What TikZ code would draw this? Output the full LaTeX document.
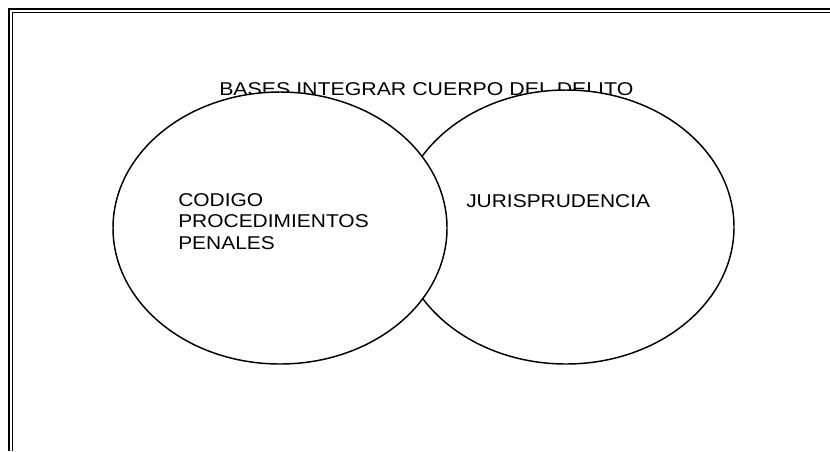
\documentclass[tikz,border=0pt]{standalone}
\usepackage{fontspec}
\setmainfont[FakeStretch=1.13]{Liberation Sans}
\newfontfamily\titlefont[FakeStretch=1.15]{Liberation Sans}
\usetikzlibrary{shapes.geometric}
\tikzset{
  blob/.style={ellipse, draw=black, fill=white, line width=1.1pt, inner sep=0pt},
  label/.style={inner sep=0pt, font=\fontsize{13.9pt}{16.1pt}\selectfont, align=left},
  frameouter/.style={line width=2pt},
  frameinner/.style={line width=0.8pt}
}
\begin{document}
\begin{tikzpicture}[x=0.75pt,y=-0.75pt]
\useasboundingbox (0,0) rectangle (830,451);
% frame
\coordinate (ob) at (9,451); \coordinate (oc) at (9,9); \coordinate (oe) at (830,9);
\coordinate (ib) at (12.5,451); \coordinate (ic) at (12.5,12.5); \coordinate (ie) at (830,12.5);
\draw[frameouter] (ob) -- (oc) -- (oe);
\draw[frameinner] (ib) -- (ic) -- (ie);
% title
\node[label, font=\titlefont\fontsize{13.9pt}{16.1pt}\selectfont, anchor=base west] (title) at (219,95) {BASES INTEGRAR CUERPO DEL DELITO};
% ellipses
\node[blob, minimum width=252pt, minimum height=205.5pt] (right) at (566,227) {};
\node[blob, minimum width=250.5pt, minimum height=204pt] (left) at (280,228) {};
% texts
\node[label, anchor=north west] (cpp) at (178,193) {CODIGO\\PROCEDIMIENTOS\\PENALES};
\node[label, anchor=base west] (jur) at (466,207) {JURISPRUDENCIA};
\end{tikzpicture}
\end{document}
